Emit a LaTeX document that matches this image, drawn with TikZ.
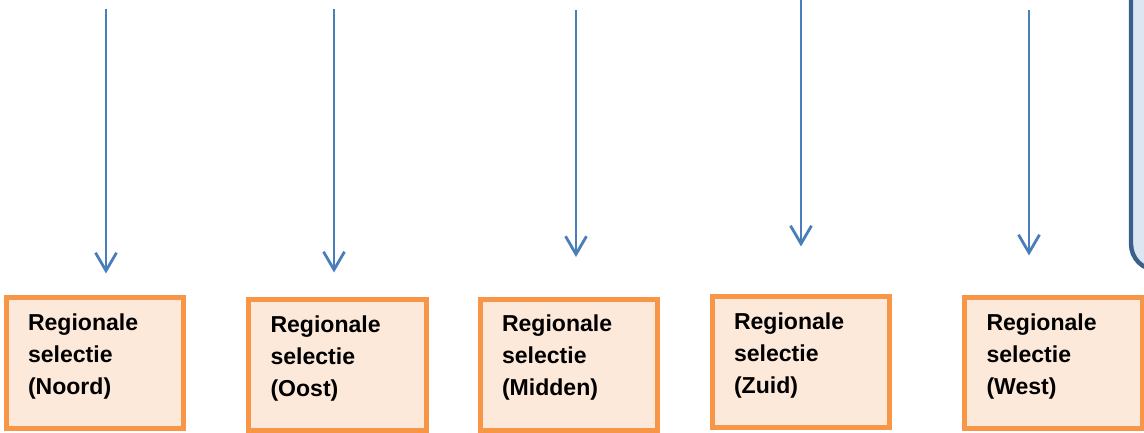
\documentclass[tikz,border=0pt]{standalone}
\usepackage{fontspec}
\setmainfont{Liberation Sans}
\usetikzlibrary{arrows.meta}
\definecolor{regorange}{HTML}{F79646}
\definecolor{regfill}{HTML}{FDE9D9}
\definecolor{arrowblue}{HTML}{4A7EBB}
\definecolor{panelblue}{HTML}{3A5F8B}
\definecolor{panelfill}{HTML}{DCE6F2}

\begin{document}
\begin{tikzpicture}[
  regbox/.style={draw=regorange, fill=regfill, line width=0.125cm,
    minimum width=4.425cm, minimum height=3.275cm,
    text width=3.35cm, inner xsep=0.54cm, align=left, text depth=2.08cm,
    font=\fontsize{16.4pt}{22.7pt}\selectfont\bfseries},
  down/.style={draw=arrowblue, line width=0.07cm,
    -{Straight Barb[length=0.45cm, width=0.525cm]}}
]
\useasboundingbox (0cm, 0cm) rectangle (28.6cm, 10.825cm);
%panel at the top right (cut off)
\draw[panelblue, fill=panelfill, line width=0.11cm, rounded corners=0.65cm]
  (28.275cm, 4.075cm) rectangle (29.5cm, 11.5cm);
%regional selection boxes
\foreach \n/\x/\y/\r in {noord/2.375/1.7375/Noord, oost/8.4375/1.6875/Oost,
  midden/14.225/1.7/Midden, zuid/20.025/1.7625/Zuid, west/26.3375/1.7375/West}
{
  \node[regbox] (\n) at (\x cm, \y cm) {Regionale\\selectie\\(\r)};
}
%arrows coming in from above
\foreach \n/\x/\y/\gap in {noord/2.65/10.6/0.55, oost/8.35/10.6/0.625,
  midden/14.4/10.575/1.0, zuid/20.025/10.9/1.2, west/25.725/10.575/1.0}
{
  \coordinate (\n top) at (\x cm, \y cm);
  \draw[down, shorten >=\gap cm] (\n top) -- (\n top |- \n.north);
}
\end{tikzpicture}
\end{document}
